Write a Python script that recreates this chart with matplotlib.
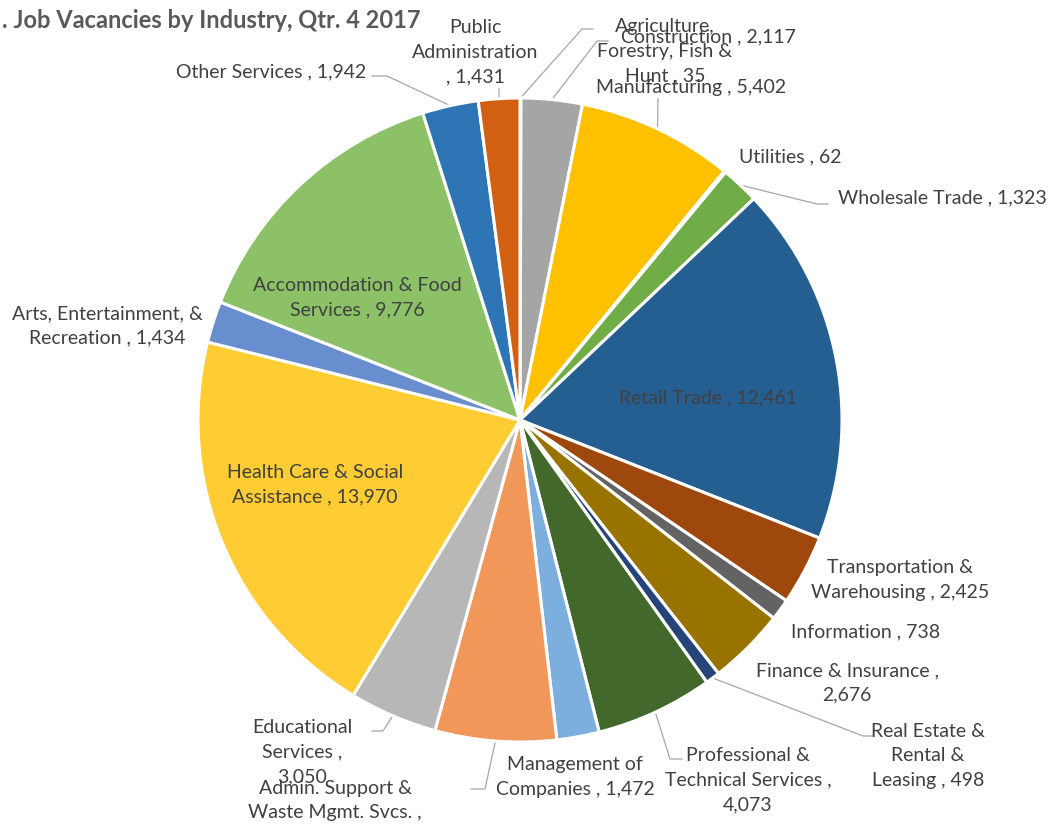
import numpy as np
import matplotlib.pyplot as plt

W, H = 1053, 829

industries = [
    "Agriculture, Forestry, Fish & Hunt", "Construction", "Manufacturing",
    "Utilities", "Wholesale Trade", "Retail Trade",
    "Transportation & Warehousing", "Information", "Finance & Insurance",
    "Real Estate & Rental & Leasing", "Professional & Technical Services",
    "Management of Companies", "Admin. Support & Waste Mgmt. Svcs.",
    "Educational Services", "Health Care & Social Assistance",
    "Arts, Entertainment, & Recreation", "Accommodation & Food Services",
    "Other Services", "Public Administration",
]
vacancies = [35, 2117, 5402, 62, 1323, 12461, 2425, 738, 2676, 498,
             4073, 1472, 4200, 3050, 13970, 1434, 9776, 1942, 1431]
colors = ["#4472C4", "#A5A5A5", "#FFC000", "#ED7D31", "#70AD47", "#255E91",
          "#9E480E", "#636363", "#997300", "#264478", "#43682B", "#7CAFDD",
          "#F1975A", "#B7B7B7", "#FFCD33", "#698ED0", "#8CC168", "#2E75B6",
          "#D26012"]

# label layout in pixels from top-left: text template, centre, leader (elbow, end)
layout = [
    ("Agriculture,\nForestry, Fish &\nHunt , {}", (665, 51), [(582, 30), (593, 30)]),
    ("Construction , {}", (708, 37), [(597, 42), (608, 42)]),
    ("Manufacturing , {}", (691, 88), [(658, 100)]),
    ("Utilities , {}", (790, 157), None),
    ("Wholesale Trade , {}", (942, 198), [(817, 205), (828, 205)]),
    ("Retail Trade , {}", (708, 398), None),
    ("Transportation &\nWarehousing , {}", (900, 580), None),
    ("Information , {}", (866, 632), None),
    ("Finance & Insurance ,\n{}", (847, 683), None),
    ("Real Estate &\nRental &\nLeasing , {}", (928, 756), [(863, 737), (873, 737)]),
    ("Professional &\nTechnical Services ,\n{}", (748, 780), [(670, 760), (682, 760)]),
    ("Management of\nCompanies , {}", (575, 777), None),
    ("Admin. Support &\nWaste Mgmt. Svcs. ,\n{}", (335, 813), [(485, 790), (471, 790)]),
    ("Educational\nServices ,\n{}", (302, 752), [(383, 732), (372, 732)]),
    ("Health Care & Social\nAssistance , {}", (315, 485), None),
    ("Arts, Entertainment, &\nRecreation , {}", (107, 326), None),
    ("Accommodation & Food\nServices , {}", (357, 298), None),
    ("Other Services , {}", (271, 72), [(387, 77), (372, 77)]),
    ("Public\nAdministration\n, {}", (475, 52), [(499, 90)]),
]

cx, cy, R = 520, 421, 322

fig = plt.figure(figsize=(W / 100, H / 100), dpi=100)
ax = fig.add_axes([0, 0, 1, 1])
wedges, _ = ax.pie(vacancies, colors=colors, startangle=90, counterclock=False,
                   center=(cx, H - cy), radius=R,
                   wedgeprops=dict(edgecolor="white", linewidth=2.2))
ax.set_xlim(0, W)
ax.set_ylim(0, H)
ax.set_aspect("equal")
ax.axis("off")

for w, v, (tmpl, (tx, ty), leader) in zip(wedges, vacancies, layout):
    ax.text(tx, H - ty, tmpl.format(f"{v:,}"), ha="center", va="center",
            fontsize=14, color="#404040", linespacing=1.55, family="Lato")
    if leader:
        mid = np.deg2rad((w.theta1 + w.theta2) / 2)
        xs = [cx + R * np.cos(mid)] + [p[0] for p in leader]
        ys = [H - cy + R * np.sin(mid)] + [H - p[1] for p in leader]
        ax.plot(xs, ys, color="#A6A6A6", lw=0.9, zorder=0.5)

fig.text(2 / W, 1 - 20 / H, ". Job Vacancies by Industry, Qtr. 4 2017",
         ha="left", va="center", fontsize=17, fontweight="bold",
         color="#595959", family="Lato")

fig.savefig("out.png", dpi=100)
